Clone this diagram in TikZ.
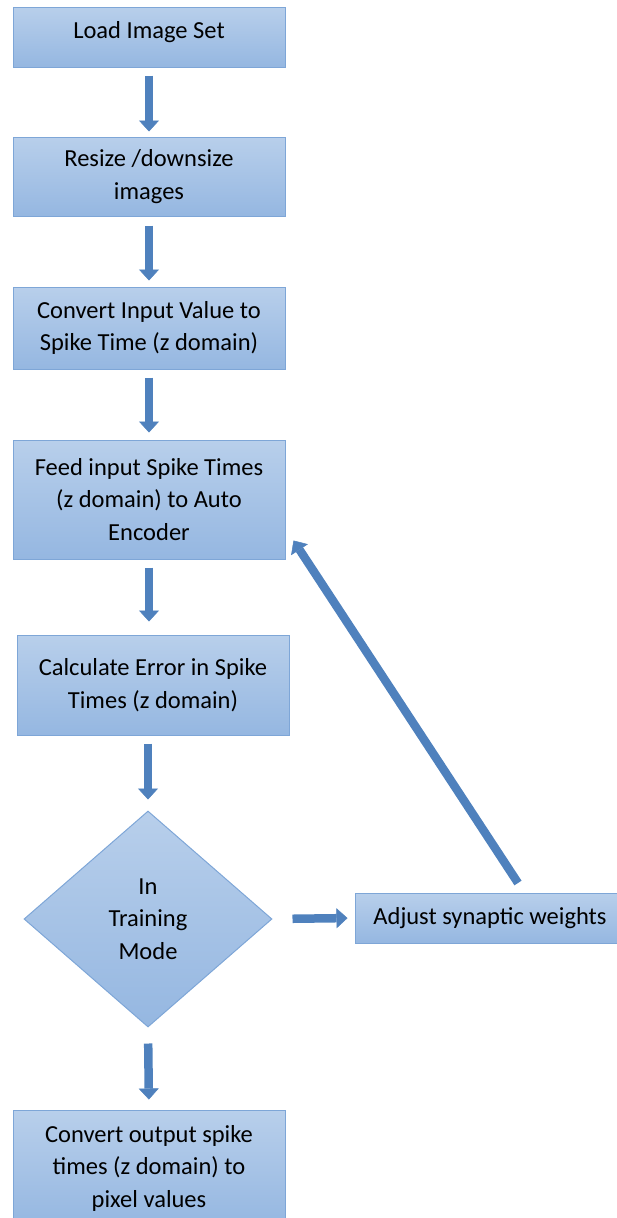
\documentclass[tikz,border=0pt]{standalone}
\usepackage{fontspec}
\setmainfont{Carlito}
\usetikzlibrary{arrows.meta, positioning, shapes.geometric, calc}
\definecolor{boxTop}{HTML}{B8CFEB}
\definecolor{boxBot}{HTML}{95B7E1}
\definecolor{boxEdge}{HTML}{7EA6D7}
\definecolor{arrowFill}{HTML}{4F81BD}
\tikzset{
    flowBox/.style={rectangle, draw=boxEdge, line width=1pt, top color=boxTop, bottom color=boxBot, minimum width=272pt, inner sep=0pt, align=center, font=\fontsize{24.5}{32.5}\selectfont},
    flowDia/.style={diamond, draw=boxEdge, line width=1pt, top color=boxTop, bottom color=boxBot, minimum width=248pt, minimum height=216pt, inner sep=0pt, align=center, font=\fontsize{24.5}{32.5}\selectfont},
    blockArrow/.style={line width=8.5pt, draw=arrowFill, -{Triangle[width=20pt, length=11pt, line width=0.5pt]}}
}

\begin{document}
\begin{tikzpicture}[x=1pt, y=-1pt]
    \useasboundingbox (0,0) rectangle (616,1218);
    % --- Main column ---
    \node[flowBox, minimum height=60pt, text depth=14pt] (loadBox) at (149,37) {Load Image Set};
    \node[flowBox, minimum height=79pt] (resizeBox) at (149,176.5) {Resize /downsize\\images};
    \node[flowBox, minimum height=82pt] (convertBox) at (149,328) {Convert Input Value to\\Spike Time (z domain)};
    \node[flowBox, minimum height=119pt] (feedBox) at (149,499.5) {Feed input Spike Times\\(z domain) to Auto\\Encoder};
    \node[flowBox, minimum height=100pt] (errorBox) at (153,685) {Calculate Error in Spike\\Times (z domain)};
    \node[flowDia] (modeDia) at (148,919) {In\\Training\\Mode};
    \node[flowBox, minimum height=116pt] (outBox) at (149,1168) {Convert output spike\\times (z domain) to\\pixel values};
    % --- Side branch ---
    \node[flowBox, minimum width=270pt, minimum height=50pt] (adjustBox) at (490,918) {Adjust synaptic weights};
    \coordinate (backTail) at (518,883);
    % --- Arrows ---
    \draw[blockArrow, shorten <=8pt, shorten >=5pt] (loadBox) -- (resizeBox);
    \draw[blockArrow, shorten <=9pt, shorten >=6pt] (resizeBox) -- (convertBox);
    \draw[blockArrow, shorten <=8pt, shorten >=7pt] (convertBox) -- (feedBox);
    \draw[blockArrow, shorten <=8pt, shorten >=13pt] (feedBox.south) -- (feedBox.south |- errorBox.north);
    \draw[blockArrow, shorten <=8pt, shorten >=11pt] (errorBox.south -| modeDia.north) -- (modeDia.north);
    \draw[blockArrow, shorten <=16pt, shorten >=10pt] (modeDia.south) -- (outBox.north);
    \draw[blockArrow, shorten <=20pt, shorten >=7pt] (modeDia.east) -- (adjustBox.west);
    \draw[blockArrow] (backTail) -- ([shift={(8pt,19pt)}]feedBox.south east);
\end{tikzpicture}
\end{document}
